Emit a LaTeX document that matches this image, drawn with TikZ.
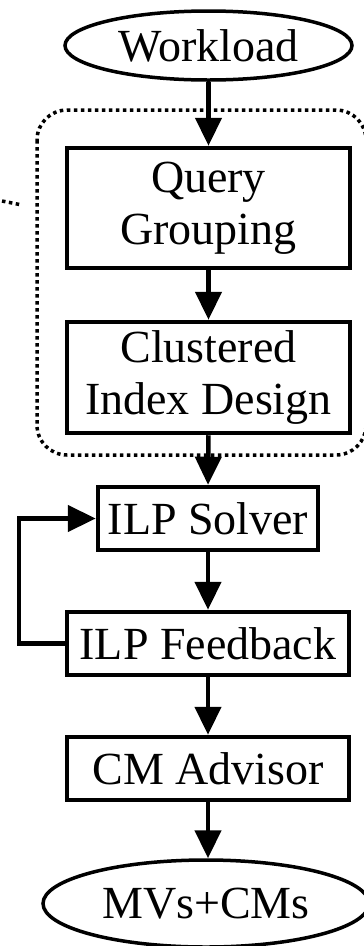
\documentclass[tikz,border=0pt]{standalone}
\usepackage{fontspec}
\setmainfont{Liberation Serif}
\usetikzlibrary{shapes.geometric,arrows.meta}
\begin{document}
\begin{tikzpicture}[x=1pt,y=-1pt,
  every node/.style={font=\fontsize{46}{52}\selectfont, inner sep=0pt},
  boxnode/.style={draw, line width=4.5pt, rectangle, align=center},
  ovalnode/.style={draw, line width=3.5pt, ellipse},
  flow/.style={line width=4.5pt, -{Triangle[length=28pt,width=26pt]}},
  dotline/.style={line width=3.5pt, dash pattern=on 3.5pt off 3.5pt}
]
\useasboundingbox (0,0) rectangle (364,946);
\clip (0,0) rectangle (364,946);

% dotted group frame
\draw[dotline, rounded corners=30pt] (37,110) rectangle (366,455);
\coordinate (dl1) at (2,201);
\coordinate (dl2) at (22,205);
\draw[dotline] (dl1) -- (dl2);

\node[ovalnode, minimum width=287pt, minimum height=69pt] (work) at (208.5,45.5) {Workload};
\node[boxnode, minimum width=283pt, minimum height=120pt] (qg) at (208.5,208) {Query\\Grouping};
\node[boxnode, minimum width=283pt, minimum height=111pt] (cid) at (208.5,377.5) {Clustered\\Index Design};
\node[boxnode, minimum width=220pt, minimum height=63pt] (ilps) at (208,518.5) {ILP Solver};
\node[boxnode, minimum width=282pt, minimum height=63pt] (ilpf) at (208,643.5) {ILP Feedback};
\node[boxnode, minimum width=282pt, minimum height=63pt] (cm) at (208,768.5) {CM Advisor};
\node[ovalnode, minimum width=326pt, minimum height=87pt] (out) at (206,903.5) {MVs+CMs};

\draw[flow] (work.south) -- (qg.north);
\draw[flow] (qg.south) -- (cid.north);
\draw[flow] (cid.south) -- (ilps.north);
\draw[flow] (ilps.south) -- (ilpf.north);
\draw[flow] (ilpf.south) -- (cm.north);
\draw[flow] (cm.south) -- (cm.south |- out.north);
\coordinate (lp) at (19,0);
\draw[flow] (ilpf.west) -- (ilpf.west -| lp) -- (ilps.west -| lp) -- (ilps.west);
\end{tikzpicture}
\end{document}
